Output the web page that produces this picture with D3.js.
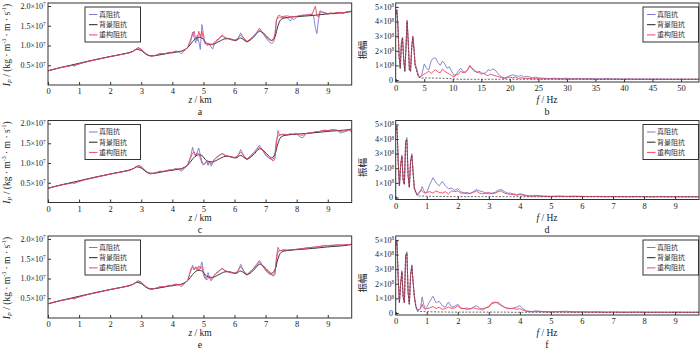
<!DOCTYPE html>
<html><head><meta charset="utf-8">
<script src="https://cdn.jsdelivr.net/npm/d3@7/dist/d3.min.js"></script>
<style>
body{margin:0;background:#fff;}
svg{display:block;font-family:"Liberation Serif","Times New Roman",serif;}
</style></head><body>
<svg id="c" width="700" height="351"></svg>
<script>
// ---------- impedance data (units 1e6) ----------
const zGrid = [0,0.4,0.8,0.85,0.9, 1.2,1.6,2.0,2.4,2.6, 2.75,2.9,3.0,3.1,3.2, 3.3,3.4,3.5,3.6,3.7,
 3.8,3.9,4.0,4.1,4.2, 4.3,4.4,4.5,4.55,4.6, 4.65,4.7,4.75,4.8,4.85, 4.9,4.95,5.0,5.05,5.1,
 5.15,5.2,5.25,5.3,5.35, 5.4,5.5,5.6,5.7,5.8, 5.9,6.0,6.1,6.2,6.3, 6.4,6.5,6.6,6.7,6.8,
 6.9,7.0,7.1,7.2,7.25, 7.3,7.35,7.4,7.45,7.5, 7.6,7.7,7.8,7.85,7.9, 8.0,8.1,8.2,8.3,8.4,
 8.5,8.55,8.6,8.65,8.7, 8.75,8.8,8.9,9.0,9.1, 9.2,9.3,9.4,9.5,9.6, 9.7,9.77];

const bgZ = [0,0.5,1.0,1.5,2.0, 2.5,2.7,2.85,3.0,3.2, 3.4,3.7,4.0,4.3,4.5, 4.65,4.8,4.95,5.1,5.3,
 5.5,5.7,5.9,6.05,6.2, 6.4,6.6,6.8,6.95,7.1, 7.2,7.3,7.4,7.5,7.7, 8.0,8.5,9.0,9.5,9.77];
const bgVals = [3.6,4.6,5.5,6.4,7.2, 8.0,8.4,9.0,8.7,7.6, 7.4,7.8,8.2,8.6,9.5, 11.0,12.0,11.9,10.6,10.3,
 11.0,11.7,11.6,11.3,11.9, 11.0,12.0,13.6,13.0,11.8, 11.3,12.2,15.0,16.6,17.1, 17.3,17.6,18.0,18.3,18.6];

const aTrue = [3.6,4.4,5.0,4.7,5.1, 5.8,6.5,7.2,7.8,8.1, 8.6,9.5,9.0,8.2,7.6, 7.3,7.4,7.6,8.0,7.8,
 8.0,8.3,8.1,8.6,8.4, 7.9,8.8,9.5,10.5,11.2, 13.4,12.0,10.6,12.6,11.0, 9.0,15.3,13.0,10.5,10.2,
 10.0,10.4,9.6,9.1,10.5, 11.0,11.6,12.4,11.9,11.8, 11.4,11.2,11.6,13.2,11.8, 10.8,11.5,12.3,13.2,14.4,
 13.3,12.0,11.0,10.5,10.8, 12.0,16.5,17.0,17.2,17.0, 17.2,17.0,16.2,17.0,16.5, 17.2,17.5,17.6,17.7,17.8,
 17.9,17.2,14.5,13.0,16.5, 18.3,18.4,18.2,18.0,18.2, 18.0,18.4,18.3,18.1,18.5, 18.6,18.8];
const aRec = [3.6,4.4,5.0,4.9,5.1, 5.8,6.5,7.2,7.8,8.1, 8.6,9.4,9.1,8.3,7.7, 7.3,7.4,7.6,7.9,7.9,
 8.0,8.2,8.3,8.5,8.5, 8.5,8.8,9.6,10.8,11.8, 12.8,13.6,11.6,11.2,13.6, 12.2,13.6,11.6,10.6,10.3,
 10.4,10.1,10.4,10.2,10.8, 11.2,11.8,12.7,12.0,11.7, 11.5,11.3,11.8,12.6,11.9, 11.0,11.6,12.2,13.0,13.9,
 13.2,12.3,11.5,11.2,11.4, 13.0,16.5,17.5,17.7,17.3, 17.4,17.5,17.3,17.4,17.3, 17.4,17.6,17.7,17.7,17.8,
 18.0,19.0,19.9,17.6,17.2, 18.8,18.6,18.3,18.1,18.2, 18.2,18.3,18.4,18.3,18.5, 18.6,18.7];

const cTrue = [3.6,4.4,5.0,4.7,5.1, 5.8,6.5,7.2,7.8,8.1, 8.6,9.4,9.0,8.2,7.5, 7.2,7.4,7.6,7.9,7.8,
 8.0,8.3,8.1,8.6,8.4, 7.9,8.8,9.6,10.8,12.0, 14.0,12.5,11.6,12.8,13.8, 12.0,10.5,9.6,9.8,10.5,
 9.4,10.4,9.2,10.0,10.8, 11.2,11.8,12.4,11.9,11.7, 11.4,11.3,11.7,13.4,11.8, 10.8,11.6,12.4,13.4,14.5,
 13.3,12.0,11.2,10.9,11.0, 12.5,16.0,16.8,17.0,17.2, 17.2,17.1,17.3,17.2,17.3, 17.4,16.6,16.4,17.4,17.6,
 17.7,17.8,17.8,17.9,17.8, 18.0,18.2,18.3,18.2,18.3, 18.4,18.3,17.6,17.8,18.0, 18.4,17.6];
const cRec = [3.6,4.4,5.0,4.9,5.1, 5.8,6.5,7.2,7.8,8.1, 8.6,9.4,9.1,8.3,7.7, 7.3,7.4,7.6,7.9,7.9,
 8.0,8.2,8.3,8.5,8.5, 8.4,8.8,9.6,10.6,11.5, 12.5,12.8,12.0,12.5,12.4, 11.2,10.0,9.5,10.0,10.4,
 9.8,10.3,9.8,10.2,10.9, 11.3,11.9,12.4,12.0,11.7, 11.5,11.3,11.8,12.8,11.9, 11.0,11.7,12.5,13.3,14.0,
 13.2,12.2,11.4,10.8,10.5, 11.0,15.0,18.2,17.0,17.2, 17.3,17.2,17.4,17.3,17.3, 17.4,17.1,17.0,17.5,17.6,
 17.7,17.8,17.9,18.0,17.9, 18.0,18.2,18.3,18.2,18.4, 18.4,18.3,18.0,18.1,18.2, 18.4,18.2];

const eTrue = [3.6,4.4,5.0,4.7,5.1, 5.8,6.5,7.2,7.8,8.1, 8.6,9.4,9.0,8.2,7.5, 7.2,7.4,7.6,7.9,7.8,
 8.0,8.3,8.1,8.6,8.4, 7.9,8.8,9.6,11.0,12.0, 13.4,12.2,12.5,12.8,12.0, 12.6,14.2,12.0,10.5,9.8,
 11.5,10.0,9.4,10.0,10.8, 11.2,11.8,12.5,11.9,11.7, 11.4,11.3,11.7,13.6,11.8, 10.8,11.6,12.4,13.5,14.6,
 13.3,12.0,11.2,10.9,10.6, 11.0,14.5,16.8,17.0,17.1, 17.2,17.1,17.2,17.2,17.3, 17.4,17.5,17.6,17.7,17.8,
 17.9,17.9,18.0,18.0,18.1, 18.1,18.2,18.3,18.3,18.4, 18.4,18.5,18.5,18.5,18.6, 18.6,18.7];
const eRec = [3.6,4.4,5.0,4.9,5.1, 5.8,6.5,7.2,7.8,8.1, 8.6,9.4,9.1,8.3,7.7, 7.3,7.4,7.6,7.9,7.9,
 8.0,8.2,8.3,8.5,8.5, 8.4,8.8,9.6,11.0,12.5, 12.8,12.2,13.0,12.2,13.2, 12.5,13.0,11.0,10.0,9.6,
 10.0,10.6,9.8,10.2,10.8, 11.3,11.9,12.6,12.0,11.7, 11.5,11.3,11.8,13.0,11.9, 11.0,11.7,12.5,13.3,14.2,
 13.2,12.2,11.4,11.0,10.8, 11.5,15.5,17.9,17.0,17.1, 17.3,17.2,17.3,17.3,17.3, 17.4,17.5,17.6,17.7,17.8,
 17.9,17.9,18.0,18.0,18.1, 18.1,18.2,18.3,18.3,18.4, 18.4,18.5,18.5,18.5,18.6, 18.6,18.7];

// ---------- spectrum data (units 1e8) ----------
const freqB = [0,0.2,0.4,0.6,0.8, 1.0,1.2,1.4,1.6,1.8, 2.0,2.2,2.4,2.6,2.8, 3.0,3.2,3.4,3.6,3.8,
 4.0,4.3,4.6,5.0,5.4, 5.8,6.2,6.6,7.0,7.4, 7.8,8.2,8.6,9.0,9.4, 9.8,10.2,10.6,11.0,11.4,
 11.8,12.2,12.6,13.0,13.4, 13.8,14.2,14.6,15.0,15.4, 15.8,16.2,16.6,17.0,17.4, 17.8,18.2,18.6,19.0,19.5,
 20,20.5,21,21.5,22, 22.5,23,23.5,24,24.5, 25,26,27,28,29, 30,31,32,33,34,
 35,36,37,38,39, 40,41,42,43,44, 45,46,47,48,49, 50,51,52,53.2];
const bBlue = [4.5,4.8,3.6,1.6,0.8, 2.5,2.9,1.4,0.6,2.2, 4.0,2.6,0.7,0.6,2.2, 3.0,2.2,1.1,0.9,0.6,
 0.3,0.2,0.4,1.1,0.8, 0.7,1.3,1.5,1.5,1.2, 1.0,1.3,1.1,0.8,0.9, 0.6,0.3,0.4,0.6,0.8,
 0.6,0.5,0.7,0.95,0.8, 0.7,0.5,0.6,0.5,0.45, 0.5,0.7,0.65,0.75,0.7, 0.5,0.3,0.2,0.15,0.2,
 0.3,0.35,0.3,0.25,0.3, 0.2,0.25,0.2,0.15,0.2, 0.15,0.12,0.1,0.12,0.1, 0.12,0.08,0.1,0.08,0.1,
 0.08,0.07,0.1,0.07,0.08, 0.06,0.07,0.06,0.07,0.06, 0.06,0.07,0.05,0.06,0.05, 0.06,0.05,0.06,0.05];
const bBlack = [4.5,4.8,3.6,1.6,0.8, 2.5,2.9,1.4,0.6,2.2, 4.0,2.6,0.7,0.6,2.1, 2.9,2.1,1.0,0.7,0.4,
 0.2,0.15,0.12,0.15,0.14, 0.13,0.14,0.13,0.12,0.13, 0.12,0.12,0.11,0.1,0.1, 0.08,0.07,0.06,0.06,0.05,
 0.05,0.05,0.05,0.05,0.05, 0.05,0.05,0.05,0.05,0.05, 0.05,0.05,0.05,0.05,0.05, 0.05,0.05,0.05,0.05,0.05,
 0.05,0.05,0.05,0.05,0.05, 0.05,0.05,0.05,0.05,0.05, 0.05,0.05,0.05,0.05,0.05, 0.05,0.05,0.05,0.05,0.05,
 0.05,0.05,0.05,0.05,0.05, 0.05,0.05,0.05,0.05,0.05, 0.05,0.05,0.05,0.05,0.05, 0.05,0.05,0.05,0.05];
const bRed = [4.5,4.8,3.6,1.6,0.8, 2.5,2.9,1.4,0.6,2.3, 4.1,2.6,0.7,0.6,2.2, 3.0,2.2,1.0,0.8,0.5,
 0.25,0.2,0.3,0.4,0.5, 0.6,0.45,0.6,0.7,0.55, 0.5,0.75,0.6,0.5,0.4, 0.3,0.2,0.35,0.4,0.6,
 0.5,0.55,0.7,1.0,0.75, 0.6,0.55,0.5,0.4,0.45, 0.35,0.3,0.4,0.35,0.3, 0.25,0.2,0.15,0.1,0.15,
 0.2,0.15,0.2,0.1,0.15, 0.1,0.12,0.1,0.08,0.1, 0.08,0.07,0.08,0.07,0.06, 0.07,0.06,0.07,0.06,0.06,
 0.05,0.06,0.05,0.06,0.05, 0.05,0.06,0.05,0.05,0.05, 0.05,0.05,0.05,0.05,0.05, 0.05,0.05,0.05,0.05];

const freqD = [0,0.04,0.08,0.12,0.16, 0.2,0.24,0.28,0.32,0.36, 0.4,0.44,0.48,0.52,0.56, 0.6,0.65,0.7,0.75,0.8,
 0.85,0.9,0.95,1.0,1.1, 1.2,1.3,1.4,1.5,1.6, 1.7,1.8,1.9,2.0,2.1, 2.2,2.3,2.4,2.5,2.6,
 2.7,2.8,2.9,3.0,3.1, 3.2,3.3,3.4,3.5,3.6, 3.7,3.8,3.9,4.0,4.1, 4.2,4.3,4.4,4.5,4.75,
 5.0,5.25,5.5,5.75,6.0, 6.25,6.5,6.75,7.0,7.25, 7.5,7.75,8.0,8.25,8.5, 8.75,9.0,9.25,9.5,9.77];
const dBlue = [4.6,4.9,2.5,0.8,2.2, 2.8,1.2,0.9,3.8,4.1, 1.5,0.7,2.5,3.0,1.8, 0.7,0.4,0.15,0.3,0.4,
 0.75,0.5,0.3,0.35,0.9, 1.35,1.0,0.8,1.1,0.8, 0.6,0.65,0.5,0.6,0.4, 0.3,0.35,0.25,0.4,0.55,
 0.45,0.4,0.3,0.25,0.3, 0.35,0.5,0.55,0.4,0.3, 0.3,0.25,0.2,0.25,0.22, 0.15,0.12,0.12,0.15,0.1,
 0.08,0.1,0.08,0.1,0.08, 0.07,0.08,0.06,0.07,0.06, 0.06,0.07,0.06,0.05,0.06, 0.05,0.06,0.05,0.05,0.05];
const dBlack = [4.6,4.9,2.5,0.8,2.2, 2.8,1.2,0.9,3.8,4.0, 1.5,0.7,2.5,2.9,1.7, 0.6,0.3,0.12,0.1,0.1,
 0.1,0.1,0.09,0.09,0.08, 0.08,0.08,0.07,0.07,0.07, 0.06,0.06,0.06,0.06,0.06, 0.06,0.06,0.06,0.06,0.06,
 0.06,0.06,0.06,0.06,0.06, 0.06,0.06,0.06,0.06,0.06, 0.05,0.05,0.05,0.05,0.05, 0.05,0.05,0.05,0.05,0.05,
 0.05,0.05,0.05,0.05,0.05, 0.05,0.05,0.05,0.05,0.05, 0.05,0.05,0.05,0.05,0.05, 0.05,0.05,0.05,0.05,0.05];
const dRed = [4.6,4.9,2.5,0.8,2.3, 2.9,1.2,0.9,3.8,3.9, 1.5,0.7,2.5,2.9,1.7, 0.6,0.35,0.2,0.35,0.5,
 0.45,0.35,0.3,0.35,0.4, 0.3,0.45,0.35,0.3,0.4, 0.25,0.45,0.4,0.45,0.3, 0.3,0.25,0.3,0.35,0.45,
 0.3,0.25,0.3,0.35,0.25, 0.3,0.4,0.45,0.3,0.25, 0.2,0.2,0.15,0.2,0.15, 0.1,0.1,0.08,0.1,0.08,
 0.07,0.08,0.07,0.06,0.07, 0.06,0.06,0.05,0.06,0.05, 0.05,0.05,0.05,0.05,0.05, 0.05,0.05,0.05,0.05,0.05];
const fBlue = [4.6,4.9,2.4,0.7,2.0, 2.9,1.1,0.7,3.9,4.2, 1.4,0.6,2.6,3.3,2.2, 1.2,0.5,0.15,0.2,0.3,
 1.1,0.6,0.3,0.4,0.8, 1.15,0.7,0.8,0.5,0.4, 0.75,0.4,0.45,0.6,0.35, 0.3,0.35,0.25,0.4,0.5,
 0.35,0.2,0.35,0.4,0.65, 0.7,0.75,0.55,0.4,0.35, 0.3,0.35,0.4,0.5,0.3, 0.15,0.12,0.1,0.15,0.1,
 0.08,0.1,0.12,0.08,0.08, 0.07,0.08,0.06,0.07,0.06, 0.06,0.07,0.06,0.05,0.06, 0.05,0.06,0.05,0.05,0.05];
const fBlack = [4.6,4.9,2.4,0.7,2.0, 2.8,1.1,0.7,3.9,4.1, 1.4,0.6,2.6,3.2,2.1, 1.1,0.4,0.12,0.1,0.1,
 0.1,0.1,0.09,0.09,0.08, 0.08,0.08,0.07,0.07,0.07, 0.06,0.06,0.06,0.06,0.06, 0.06,0.06,0.06,0.06,0.06,
 0.06,0.06,0.06,0.06,0.06, 0.06,0.06,0.06,0.06,0.06, 0.05,0.05,0.05,0.05,0.05, 0.05,0.05,0.05,0.05,0.05,
 0.05,0.05,0.05,0.05,0.05, 0.05,0.05,0.05,0.05,0.05, 0.05,0.05,0.05,0.05,0.05, 0.05,0.05,0.05,0.05,0.05];
const fRed = [4.6,4.9,2.4,0.7,2.1, 2.8,1.1,0.7,3.9,4.1, 1.4,0.6,2.6,3.2,2.1, 1.1,0.45,0.2,0.25,0.3,
 0.6,0.35,0.25,0.3,0.35, 0.45,0.3,0.4,0.25,0.3, 0.4,0.3,0.35,0.5,0.3, 0.3,0.25,0.3,0.35,0.3,
 0.25,0.3,0.35,0.45,0.7, 0.75,0.65,0.5,0.4,0.3, 0.3,0.3,0.25,0.3,0.2, 0.12,0.1,0.08,0.1,0.08,
 0.07,0.08,0.07,0.06,0.07, 0.06,0.06,0.05,0.06,0.05, 0.05,0.05,0.05,0.05,0.05, 0.05,0.05,0.05,0.05,0.05];

// ---------- ticks / labels ----------
const zTicks = [0,1,2,3,4,5,6,7,8,9];
const impTicks = [5,10,15,20];          // ×1e6 -> labels 0.5..2.0 ×10^7
const impTickLabels = ['0.5','1.0','1.5','2.0'];
const ampTicks = [0,1,2,3,4,5];
const fTicksB = [0,5,10,15,20,25,30,35,40,45,50];
const fTicksD = [0,1,2,3,4,5,6,7,8,9];
const legendLabels = ['真阻抗','背景阻抗','重构阻抗'];
const panelLetters = [['a','b'],['c','d'],['e','f']];

const COL_TRUE = '#7a7ad4', COL_BG = '#222222', COL_REC = '#f2445c', FRAME = '#333';
const offsets = [0, 117.5, 233];

const svg = d3.select('#c');

function sci(g, x, y, mant, exp, size){
  const t = g.append('text').attr('x', x).attr('y', y).attr('text-anchor','end')
    .attr('font-size', size).attr('dy','0.35em').attr('fill','#222');
  t.append('tspan').text(mant + '×10');
  t.append('tspan').attr('dy','-0.45em').attr('font-size', size*0.65).text(exp);
}

function legend(g, x0, y0){
  g.append('rect').attr('x', x0).attr('y', y0).attr('width', 55.5).attr('height', 35)
    .attr('fill','#fff').attr('stroke', FRAME).attr('stroke-width', 1);
  const cols = [COL_TRUE, COL_BG, COL_REC];
  legendLabels.forEach((lab, i) => {
    const yy = y0 + 7.5 + i * 10.2;
    g.append('line').attr('x1', x0 + 4).attr('x2', x0 + 12.5).attr('y1', yy).attr('y2', yy)
      .attr('stroke', cols[i]).attr('stroke-width', 1);
    g.append('text').attr('x', x0 + 14).attr('y', yy).attr('dy','0.35em')
      .attr('font-family','"Noto Sans CJK SC"').attr('font-size', 7).attr('fill','#333').text(lab);
  });
}

function frameAndClip(g, id, x0, y0, x1, y1){
  g.append('clipPath').attr('id', id).append('rect')
    .attr('x', x0).attr('y', y0).attr('width', x1 - x0).attr('height', y1 - y0);
}

function leftPanel(i, trueV, recV){
  const oy = offsets[i];
  const g = svg.append('g');
  const x = d3.scaleLinear().domain([0, 9.77]).range([48, 351.7]);
  const y = d3.scaleLinear().domain([0, 20.76]).range([85 + oy, 3 + oy]);
  const cid = 'clipL' + i;
  frameAndClip(g, cid, 48, 3 + oy, 351.7, 85 + oy);
  const line = d3.line().x(d => x(d[0])).y(d => y(d[1]));
  const lines = g.append('g').attr('clip-path', 'url(#' + cid + ')').attr('fill','none');
  lines.append('path').attr('d', line(d3.zip(zGrid, trueV))).attr('stroke', COL_TRUE).attr('stroke-width', 0.9);
  lines.append('path').attr('d', d3.line().x(d => x(d[0])).y(d => y(d[1])).curve(d3.curveCatmullRom)(d3.zip(bgZ, bgVals)))
    .attr('stroke', COL_BG).attr('stroke-width', 0.9);
  lines.append('path').attr('d', line(d3.zip(zGrid, recV))).attr('stroke', COL_REC).attr('stroke-width', 0.9);
  const ax = g.append('g').attr('transform', `translate(0,${85 + oy})`)
    .call(d3.axisBottom(x).tickValues(zTicks).tickSize(-3).tickPadding(3).tickFormat(d3.format('d')));
  ax.select('.domain').remove();
  ax.selectAll('text').attr('font-size', 8.5).attr('font-family','"Liberation Serif"').attr('fill','#222');
  ax.selectAll('line').attr('stroke', FRAME);
  const ay = g.append('g').attr('transform', 'translate(48,0)')
    .call(d3.axisLeft(y).tickValues(impTicks).tickSize(-3).tickFormat(''));
  ay.select('.domain').remove();
  ay.selectAll('line').attr('stroke', FRAME);
  impTicks.forEach((v, k) => sci(g, 45.5, y(v), impTickLabels[k], '7', 8));
  g.append('rect').attr('x', 48).attr('y', 3 + oy).attr('width', 351.7 - 48).attr('height', 82)
    .attr('fill','none').attr('stroke', FRAME).attr('stroke-width', 1);
  const xt = g.append('text').attr('x', 200).attr('y', 103 + oy).attr('text-anchor','middle')
    .attr('font-size', 9.5).attr('fill','#222');
  xt.append('tspan').attr('font-style','italic').text('z');
  xt.append('tspan').text(' / km');
  g.append('text').attr('x', 200).attr('y', 115 + oy).attr('text-anchor','middle')
    .attr('font-size', 10).attr('fill','#222').text(panelLetters[i][0]);
  const yt = g.append('text').attr('transform', `translate(9.5,${45 + oy}) rotate(-90)`)
    .attr('text-anchor','middle').attr('font-size', 9.5).attr('fill','#222');
  yt.append('tspan').attr('font-style','italic').text('I');
  yt.append('tspan').attr('font-style','italic').attr('font-size', 6.5).attr('dy','2').text('P');
  yt.append('tspan').attr('dy','-2').text(' / (kg · m');
  yt.append('tspan').attr('font-size', 6).attr('dy','-3.5').text('-3');
  yt.append('tspan').attr('dy','3.5').text(' · m · s');
  yt.append('tspan').attr('font-size', 6).attr('dy','-3.5').text('-1');
  yt.append('tspan').attr('dy','3.5').text(')');
  legend(g, 85, 7 + oy);
}

function rightPanel(i, fr, xmax, ticks, blue, black, red){
  const oy = offsets[i];
  const g = svg.append('g');
  const x0 = 395.7, x1 = 699;
  const x = d3.scaleLinear().domain([0, xmax]).range([x0, x1]);
  const y = d3.scaleLinear().domain([-0.137, 5.27]).range([82 + oy, 3 + oy]);
  const cid = 'clipR' + i;
  frameAndClip(g, cid, x0, 3 + oy, x1, 82 + oy);
  const line = d3.line().x(d => x(d[0])).y(d => y(d[1]));
  const lines = g.append('g').attr('clip-path', 'url(#' + cid + ')').attr('fill','none');
  lines.append('path').attr('d', line(d3.zip(fr, blue))).attr('stroke', COL_TRUE).attr('stroke-width', 0.9);
  lines.append('path').attr('d', line(d3.zip(fr, red))).attr('stroke', COL_REC).attr('stroke-width', 0.9);
  lines.append('path').attr('d', line(d3.zip(fr, black))).attr('stroke', '#444').attr('stroke-width', 0.8)
    .attr('stroke-dasharray', '2,1.5');
  const ax = g.append('g').attr('transform', `translate(0,${82 + oy})`)
    .call(d3.axisBottom(x).tickValues(ticks).tickSize(-3).tickPadding(3).tickFormat(d3.format('d')));
  ax.select('.domain').remove();
  ax.selectAll('text').attr('font-size', 8.5).attr('font-family','"Liberation Serif"').attr('fill','#222');
  ax.selectAll('line').attr('stroke', FRAME);
  const ay = g.append('g').attr('transform', `translate(${x0},0)`)
    .call(d3.axisLeft(y).tickValues(ampTicks).tickSize(-3).tickFormat(''));
  ay.select('.domain').remove();
  ay.selectAll('line').attr('stroke', FRAME);
  ampTicks.forEach(v => {
    if (v === 0) {
      g.append('text').attr('x', 393).attr('y', y(v)).attr('dy','0.35em').attr('text-anchor','end')
        .attr('font-size', 8).attr('fill','#222').text('0');
    } else sci(g, 394, y(v), String(v), '8', 8);
  });
  g.append('rect').attr('x', x0).attr('y', 3 + oy).attr('width', x1 - x0).attr('height', 79)
    .attr('fill','none').attr('stroke', FRAME).attr('stroke-width', 1);
  const xt = g.append('text').attr('x', 547).attr('y', 103 + oy).attr('text-anchor','middle')
    .attr('font-size', 9.5).attr('fill','#222');
  xt.append('tspan').attr('font-style','italic').text('f');
  xt.append('tspan').text(' / Hz');
  g.append('text').attr('x', 547).attr('y', 115 + oy).attr('text-anchor','middle')
    .attr('font-size', 10).attr('fill','#222').text(panelLetters[i][1]);
  g.append('text').attr('transform', `translate(363,${50 + oy}) rotate(-90)`)
    .attr('text-anchor','middle').attr('dy','0.35em').attr('font-family','"Noto Sans CJK SC"')
    .attr('font-size', 9.5).attr('fill','#222').text('振幅');
  legend(g, 643, 7 + oy);
}

leftPanel(0, aTrue, aRec);
leftPanel(1, cTrue, cRec);
leftPanel(2, eTrue, eRec);
rightPanel(0, freqB, 53.15, fTicksB, bBlue, bBlack, bRed);
rightPanel(1, freqD, 9.77, fTicksD, dBlue, dBlack, dRed);
rightPanel(2, freqD, 9.77, fTicksD, fBlue, fBlack, fRed);
</script>
</body></html>
